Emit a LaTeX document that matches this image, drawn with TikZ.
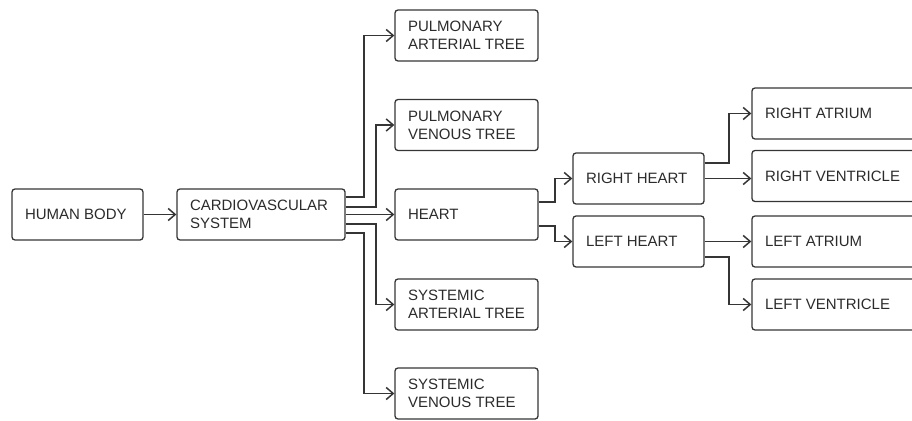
\documentclass[tikz,border=0pt]{standalone}
\usepackage{fontspec}
\setmainfont{Liberation Sans}
\usetikzlibrary{arrows.meta}
\definecolor{ln}{HTML}{353535}
\definecolor{tx}{HTML}{2B2B2B}
\begin{document}
\begin{tikzpicture}[x=1pt,y=-1pt,
  box/.style={draw=ln, line width=1.3pt, rounded corners=3pt, minimum height=51pt,
    inner xsep=13pt, inner ysep=0pt, align=flush left, text=tx,
    font=\fontsize{15}{18}\selectfont},
  wa/.style={box, text width=105pt},
  wb/.style={box, text width=142pt},
  wm/.style={box, text width=117pt},
  conn/.style={draw=ln, line width=1.4pt,
    -{Straight Barb[length=7pt,width=12pt,line width=1.5pt]}}]
\clip (0,0) rectangle (912,420);
% nodes
\node[wa] (hb) at (77.5,214.5) {HUMAN BODY};
\node[wb] (cvs) at (261,214.5) {CARDIOVASCULAR\\SYSTEM};
\node[wm] (pat) at (466.5,35.5) {PULMONARY\\ARTERIAL TREE};
\node[wm] (pvt) at (466.5,125) {PULMONARY\\VENOUS TREE};
\node[wm] (heart) at (466.5,214.5) {HEART};
\node[wm] (sat) at (466.5,304.5) {SYSTEMIC\\ARTERIAL TREE};
\node[wm] (svt) at (466.5,393.5) {SYSTEMIC\\VENOUS TREE};
\node[wa] (rh) at (638.5,178.5) {RIGHT HEART};
\node[wa] (lh) at (638.5,241.5) {LEFT HEART};
\node[wb] (ra) at (836,113.5) {RIGHT ATRIUM};
\node[wb] (rv) at (836,176) {RIGHT VENTRICLE};
\node[wb] (la) at (836,241.5) {LEFT ATRIUM};
\node[wb] (lv) at (836,304.5) {LEFT VENTRICLE};
% junction columns
\coordinate (jo) at (364,0);
\coordinate (ji) at (376,0);
\coordinate (jh) at (555,0);
\coordinate (jr) at (729,0);
% connectors
\draw[conn] (hb) -- (cvs);
\draw[conn] ([yshift=17.5pt]cvs.east) -| (jo |- pat.west) -- (pat.west);
\draw[conn] ([yshift=7.5pt]cvs.east) -| (ji |- pvt.west) -- (pvt.west);
\draw[conn] (cvs.east) -- (heart.west);
\draw[conn] ([yshift=-9.5pt]cvs.east) -| (ji |- sat.west) -- (sat.west);
\draw[conn] ([yshift=-18.5pt]cvs.east) -| (jo |- svt.west) -- (svt.west);
\draw[conn] ([yshift=12.5pt]heart.east) -| (jh |- rh.west) -- (rh.west);
\draw[conn] ([yshift=-11.5pt]heart.east) -| (jh |- lh.west) -- (lh.west);
\draw[conn] ([yshift=15.5pt]rh.east) -| (jr |- ra.west) -- (ra.west);
\draw[conn] (rh.east) -- (rh.east -| rv.west);
\draw[conn] (lh.east) -- (la.west);
\draw[conn] ([yshift=-15.5pt]lh.east) -| (jr |- lv.west) -- (lv.west);
\end{tikzpicture}
\end{document}
